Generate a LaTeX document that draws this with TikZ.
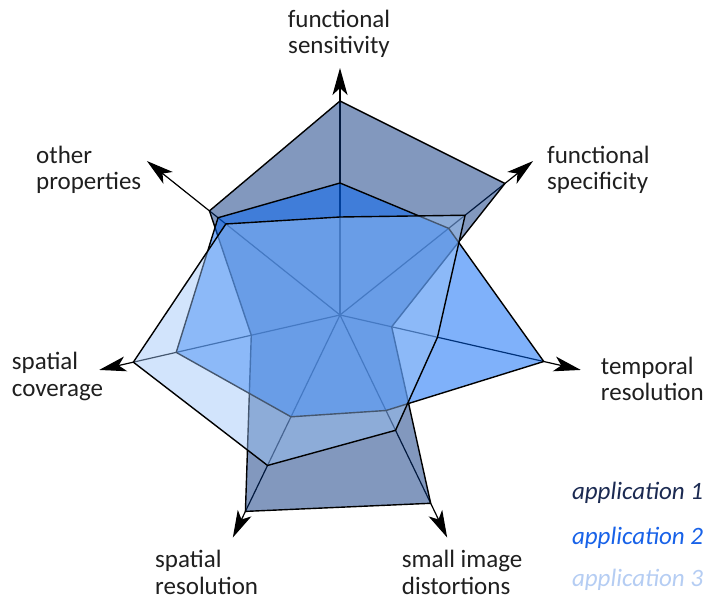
\documentclass[tikz,border=0pt]{standalone}
\usepackage{fontspec}
\setmainfont{Carlito}
\usetikzlibrary{arrows.meta,calc}

\definecolor{appone}{RGB}{5,50,125}
\definecolor{apptwo}{RGB}{0,100,245}
\definecolor{appthree}{RGB}{155,195,248}
\definecolor{keyone}{RGB}{27,42,82}
\definecolor{keytwo}{RGB}{24,98,232}
\definecolor{keythree}{RGB}{181,205,243}

\begin{document}
\begin{tikzpicture}[x=1pt,y=1pt,
  axis/.style={line width=1.2pt, -{Stealth[length=27pt,width=15pt,inset=7pt]}},
  app/.style={draw=black, line width=1.4pt, line join=round},
  lbl/.style={font=\fontsize{25}{27}\selectfont, inner sep=0pt, text=black!88, anchor=base west},
  key/.style={font=\fontsize{25}{27}\selectfont\itshape, inner sep=0pt, anchor=base east}]
\useasboundingbox (0,0) rectangle (707,600);

\coordinate (C) at (340,285);
% axis end points, one per property
\foreach \i/\a in {0/90,1/38.571,2/-12.857,3/-64.286,4/-115.714,5/-167.143,6/141.429}{
  \coordinate (T\i) at ($(C)+(\a:247)$);
}
\foreach \i in {0,...,6}{
  \draw[axis] (C) -- (T\i);
}

% the three profiles, drawn bottom to top
\begin{scope}[shift={(C)}]
  \filldraw[app, fill=appone, fill opacity=.5]
    (90:214) -- (38.571:211) -- (-12.857:53) -- (-64.286:209) --
    (-115.714:218) -- (-167.143:91) -- (141.429:167) -- cycle;
  \filldraw[app, fill=apptwo, fill opacity=.5]
    (90:132) -- (38.571:139) -- (-12.857:209) -- (-64.286:106) --
    (-115.714:113) -- (-167.143:168) -- (141.429:156) -- cycle;
  \filldraw[app, fill=appthree, fill opacity=.45]
    (90:98) -- (38.571:160) -- (-12.857:100) -- (-64.286:128) --
    (-115.714:167) -- (-167.143:212) -- (141.429:146) -- cycle;
\end{scope}

% property labels
\node[lbl, anchor=base] (fs1) at (339,572) {functional};
\node[lbl, anchor=base] (fs2) at (339,546) {sensitivity};
\node[lbl] (op1) at (36,436.7) {other};
\node[lbl] (op2) at (36,410) {properties};
\node[lbl] (fp1) at (547,436.7) {functional};
\node[lbl] (fp2) at (547,410) {specificity};
\node[lbl] (sc1) at (11.7,230.7) {spatial};
\node[lbl] (sc2) at (11.7,203) {coverage};
\node[lbl] (tr1) at (600.7,225) {temporal};
\node[lbl] (tr2) at (600.7,199.3) {resolution};
\node[lbl] (sr1) at (155,32) {spatial};
\node[lbl] (sr2) at (155,6) {resolution};
\node[lbl] (sd1) at (401.7,32) {small image};
\node[lbl] (sd2) at (401.7,6) {distortions};

% legend
\node[key, text=keyone] (k1) at (703.3,100.7) {application 1};
\node[key, text=keytwo] (k2) at (703.3,56) {application 2};
\node[key, text=keythree] (k3) at (703.3,13.3) {application 3};
\end{tikzpicture}
\end{document}
